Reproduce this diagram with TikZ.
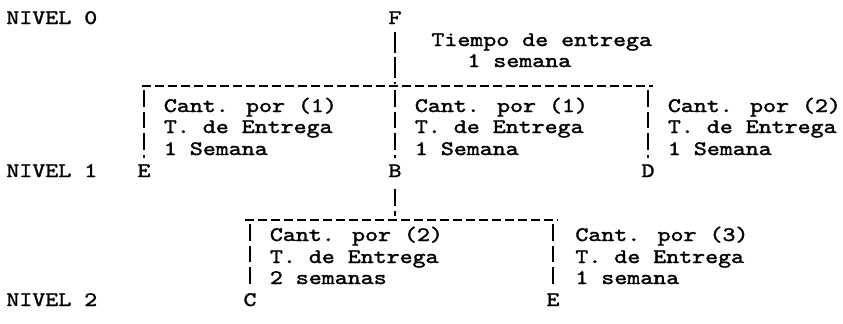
\documentclass[tikz,border=0pt]{standalone}
\usepackage{fontspec}
\usepackage{tikz}
\usetikzlibrary{positioning}
\newfontfamily\twfont{lmmono10-regular}[Extension=.otf, FakeStretch=1.2, FakeBold=1.6]
\newcommand{\tfont}{\fontsize{10.3}{12}\selectfont\twfont}
\tikzset{ %
  ,every node/.style={font=\tfont, inner sep=0}
  ,lvl/.style={anchor=base west}
  ,txt/.style={anchor=base west}
  ,item/.style={anchor=base, inner ysep=2pt}
  ,rule/.style={line width=0.8pt, dash pattern=on 4.4pt off 2.1pt}
  ,bar/.style={line width=0.6pt, dash pattern=on 8.3pt off 2.5pt, shorten <=2pt, shorten >=1pt}
}

\begin{document}
\begin{tikzpicture}[x=0.5pt, y=-0.5pt]
  \useasboundingbox (0,0) rectangle (843,323);
  % niveles
  \node[lvl] (n0) at (6,24) {NIVEL 0};
  \node[lvl] (n1) at (6,177) {NIVEL 1};
  \node[lvl] (n2) at (6,306) {NIVEL 2};
  % nivel 0
  \node[item] (F) at (395,24) {F};
  \node[txt] (tF1) at (431,46) {Tiempo de entrega};
  \node[txt] (tF2) at (467,67) {1 semana};
  \coordinate (r0a) at (142,86);
  \coordinate (r0b) at (653,86);
  \coordinate (r0E) at (144,86);
  \coordinate (r0B) at (395,86);
  \coordinate (r0D) at (648,86);
  \draw[rule] (r0a) -- (r0b);
  \draw[bar, dash pattern=on 10.5pt off 2pt] (F) -- (r0B);
  % nivel 1
  \node[item] (E) at (144,177) {E};
  \node[item] (B) at (395,177) {B};
  \node[item] (D) at (648,177) {D};
  \node[txt] (tE1) at (163.5,112) {Cant. por (1)};
  \node[txt] (tE2) at (163.5,133) {T. de Entrega};
  \node[txt] (tE3) at (163.5,155) {1 Semana};
  \node[txt] (tB1) at (414.5,112) {Cant. por (1)};
  \node[txt] (tB2) at (414.5,133) {T. de Entrega};
  \node[txt] (tB3) at (414.5,155) {1 Semana};
  \node[txt] (tD1) at (667.5,112) {Cant. por (2)};
  \node[txt] (tD2) at (667.5,133) {T. de Entrega};
  \node[txt] (tD3) at (667.5,155) {1 Semana};
  \draw[bar] (r0E) -- (E);
  \draw[bar] (r0B) -- (B);
  \draw[bar] (r0D) -- (D);
  \coordinate (r1a) at (245,220);
  \coordinate (r1b) at (558,220);
  \coordinate (r1B) at (395,220);
  \coordinate (r1C) at (250,220);
  \coordinate (r1E) at (553,220);
  \draw[rule] (r1a) -- (r1b);
  \draw[bar, shorten <=4pt, shorten >=2pt] (B) -- (r1B);
  % nivel 2
  \node[item] (C) at (250,306) {C};
  \node[item] (E2) at (553,306) {E};
  \node[txt] (tC1) at (269.5,241) {Cant. por (2)};
  \node[txt] (tC2) at (269.5,263) {T. de Entrega};
  \node[txt] (tC3) at (269.5,284) {2 semanas};
  \node[txt] (tG1) at (575,241) {Cant. por (3)};
  \node[txt] (tG2) at (575,263) {T. de Entrega};
  \node[txt] (tG3) at (575,284) {1 semana};
  \draw[bar] (r1C) -- (C);
  \draw[bar] (r1E) -- (E2);
\end{tikzpicture}
\end{document}
